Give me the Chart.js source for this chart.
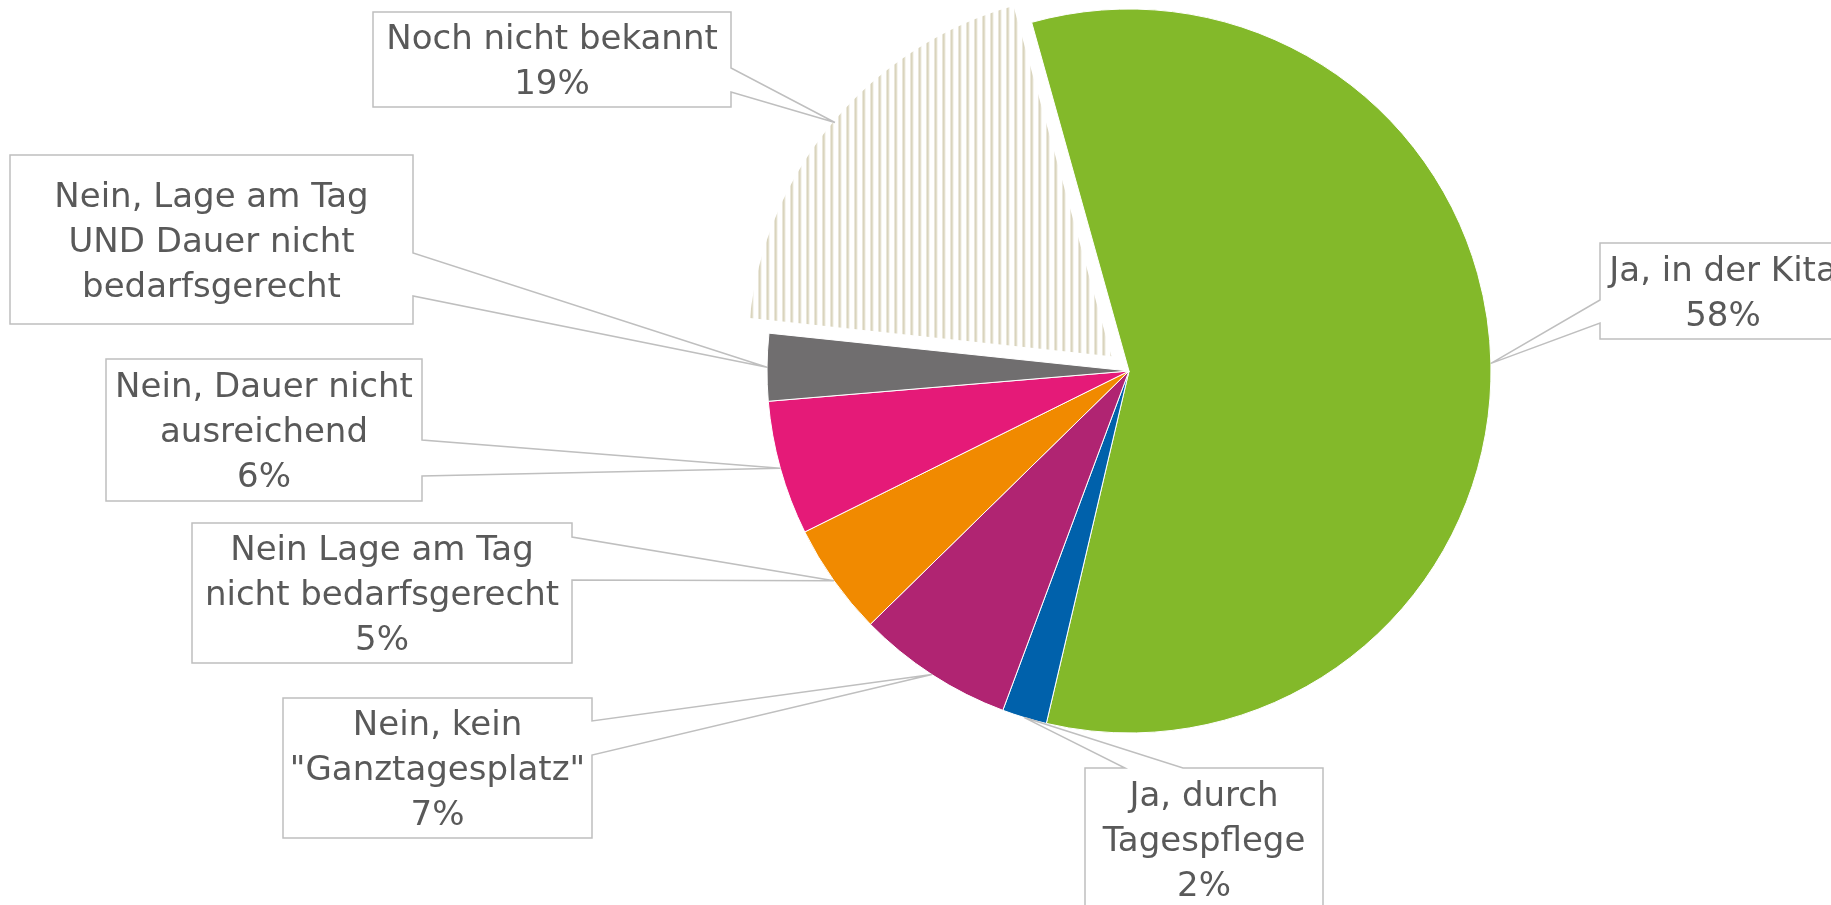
<!DOCTYPE html>
<html>
<head>
<meta charset="utf-8">
<script src="https://cdn.jsdelivr.net/npm/chart.js@4/dist/chart.umd.min.js"></script>
<style>
  html, body { margin: 0; padding: 0; background: #fff; overflow: hidden; }
  canvas { display: block; }
</style>
</head>
<body>
<canvas id="pieChart" width="1831" height="905"></canvas>
<script>
const categories = [
    'Ja, in der Kita',
    'Ja, durch Tagespflege',
    'Nein, kein "Ganztagesplatz"',
    'Nein Lage am Tag nicht bedarfsgerecht',
    'Nein, Dauer nicht ausreichend',
    'Nein, Lage am Tag UND Dauer nicht bedarfsgerecht',
    'Noch nicht bekannt'
];
const shares = [58, 2, 7, 5, 6, 3, 19];
const labelLines = [
    ['Ja, in der Kita'],
    ['Ja, durch', 'Tagespflege'],
    ['Nein, kein', '"Ganztagesplatz"'],
    ['Nein Lage am Tag', 'nicht bedarfsgerecht'],
    ['Nein, Dauer nicht', 'ausreichend'],
    ['Nein, Lage am Tag', 'UND Dauer nicht', 'bedarfsgerecht'],
    ['Noch nicht bekannt']
];
const showShare = [true, true, true, true, true, false, true];

// vertical stripes for "Noch nicht bekannt"
function stripes() {
    const c = document.createElement('canvas');
    c.width = 8; c.height = 8;
    const g = c.getContext('2d');
    g.fillStyle = '#d9d4bd';
    g.fillRect(0, 0, 2, 8);
    g.fillStyle = '#ebe8db';
    g.fillRect(2, 0, 1, 8);
    return g.createPattern(c, 'repeat');
}

const sliceColors = ['#83b92a', '#0061ab', '#b02472', '#f18a00', '#e51a78', '#706e6f', stripes()];

// callout boxes: x, y, w, h, side of the wedge, wedge start/end along that side
const boxes = [
    { x: 1600, y: 243, w: 246, h: 96,  side: 'left',  a: 300, b: 323 },
    { x: 1085, y: 768, w: 238, h: 142, side: 'top',   a: 1125, b: 1183 },
    { x: 283,  y: 698, w: 309, h: 140, side: 'right', a: 721, b: 755 },
    { x: 192,  y: 523, w: 380, h: 140, side: 'right', a: 537, b: 580 },
    { x: 106,  y: 359, w: 316, h: 142, side: 'right', a: 440, b: 476 },
    { x: 10,   y: 155, w: 403, h: 169, side: 'right', a: 253, b: 296 },
    { x: 373,  y: 12,  w: 358, h: 95,  side: 'right', a: 68,  b: 92 }
];

const calloutPlugin = {
    id: 'callouts',
    afterDatasetsDraw(chart) {
        const ctx = chart.ctx;
        const arcs = chart.getDatasetMeta(0).data;
        arcs.forEach(function(arc, i) {
            const bx = boxes[i];
            const mid = (arc.startAngle + arc.endAngle) / 2;
            const off = (arc.options.offset || 0) / 4;
            const ax = arc.x + Math.cos(mid) * (arc.outerRadius + off);
            const ay = arc.y + Math.sin(mid) * (arc.outerRadius + off);
            const L = bx.x, T = bx.y, R = bx.x + bx.w, B = bx.y + bx.h;
            let pts;
            if (bx.side === 'right') {
                pts = [[R, bx.b], [R, B], [L, B], [L, T], [R, T], [R, bx.a]];
            } else if (bx.side === 'left') {
                pts = [[L, bx.a], [L, T], [R, T], [R, B], [L, B], [L, bx.b]];
            } else {
                pts = [[bx.a, T], [L, T], [L, B], [R, B], [R, T], [bx.b, T]];
            }

            ctx.save();
            ctx.fillStyle = '#ffffff';
            ctx.fillRect(L, T, bx.w, bx.h);
            ctx.beginPath();
            ctx.moveTo(pts[0][0], pts[0][1]);
            for (let k = 1; k < pts.length; k++) ctx.lineTo(pts[k][0], pts[k][1]);
            ctx.lineTo(ax, ay);
            ctx.closePath();
            ctx.strokeStyle = '#bfbfbf';
            ctx.lineWidth = 1.5;
            ctx.stroke();

            const lines = labelLines[i].slice();
            if (showShare[i]) lines.push(shares[i] + '%');
            ctx.fillStyle = '#595959';
            ctx.font = '34px "DejaVu Sans"';
            ctx.textAlign = 'center';
            ctx.textBaseline = 'alphabetic';
            const cx = (L + R) / 2, cy = (T + B) / 2;
            const lh = 45;
            lines.forEach(function(t, k) {
                ctx.fillText(t, cx, cy + (k - (lines.length - 1) / 2) * lh + 12);
            });
            ctx.restore();
        });
    }
};

new Chart(document.getElementById('pieChart'), {
    type: 'pie',
    data: {
        labels: categories,
        datasets: [{
            data: shares,
            backgroundColor: sliceColors,
            borderColor: '#ffffff',
            borderWidth: [1, 1, 1, 1, 1, 1, 0],
            offset: [0, 0, 0, 0, 0, 0, 92]
        }]
    },
    options: {
        responsive: false,
        animation: false,
        rotation: -15.6,
        radius: 362,
        layout: { padding: { left: 427, right: 0, top: 0, bottom: 163 } },
        plugins: {
            legend: { display: false },
            tooltip: { enabled: false }
        },
        events: []
    },
    plugins: [calloutPlugin]
});
</script>
</body>
</html>
